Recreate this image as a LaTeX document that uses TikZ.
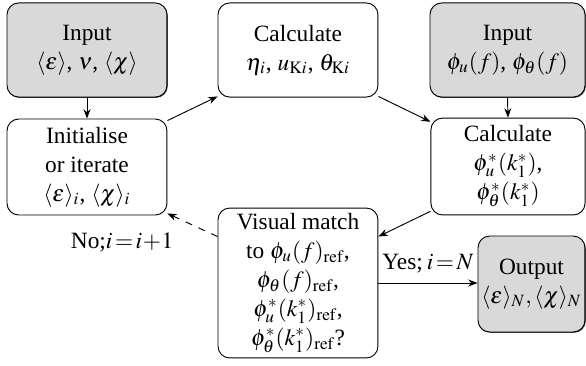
\documentclass[tikz,border=0pt]{standalone}
\usepackage{mathptmx}
\usepackage[no-math]{fontspec}
\setmainfont{Liberation Serif}
\usetikzlibrary{arrows.meta,calc,shadows}
\definecolor{boxgray}{gray}{0.85}
\tikzset{
  box/.style={draw=black, rounded corners=5pt, align=center, inner sep=1pt, font=\fontsize{10}{12.4}\selectfont, thin},
  inbox/.style={box, fill=boxgray, drop shadow={shadow xshift=0.35pt, shadow yshift=-0.35pt, fill=black!70, opacity=1}},
  conn/.style={thin, -{Stealth[length=4pt,width=3pt]}},
  lab/.style={font=\fontsize{10}{12}\selectfont, inner sep=1pt}
}
\begin{document}
\begin{tikzpicture}[x=0.4283pt, y=-0.4283pt]
\useasboundingbox (0,0) rectangle (586,365);
\node[inbox, minimum width=68.5pt, minimum height=40.3pt] (in1) at (87,50)
  {Input\\ $\langle\varepsilon\rangle$, $\nu$, $\langle\chi\rangle$};
\node[box, minimum width=68.5pt, minimum height=40.3pt] (calc1) at (298,50)
  {Calculate\\ $\eta_{i}$, $u_{\mathrm{K}i}$, $\theta_{\mathrm{K}i}$};
\node[inbox, minimum width=66.4pt, minimum height=40.3pt] (in2) at (507.5,50)
  {Input\\ $\phi_u(f)$, $\phi_\theta(f)$};
\node[box, minimum width=68.5pt, minimum height=41.1pt] (init) at (87,167)
  {Initialise\\ or iterate\\ $\langle\varepsilon\rangle_{i}$, $\langle\chi\rangle_{i}$};
\node[box, minimum width=66pt, minimum height=41.5pt] (calc2) at (508,166.5)
  {Calculate\\ $\phi_u^*(k_1^*)$,\\ $\phi_\theta^*(k_1^*)$};
\node[box, minimum width=68.5pt, minimum height=64.2pt] (vis) at (298,283)
  {Visual match\\ to $\phi_u(f)_{\mathrm{ref}}$,\\ $\phi_\theta(f)_{\mathrm{ref}}$,\\ $\phi_u^*(k_1^*)_{\mathrm{ref}}$,\\ $\phi_\theta^*(k_1^*)_{\mathrm{ref}}$?};
\node[inbox, minimum width=45.8pt, minimum height=41.1pt] (out) at (531.5,284)
  {Output\\ $\langle\varepsilon\rangle_{N},\langle\chi\rangle_{N}$};

\draw[conn] (in1.south) -- (init.north);
\draw[conn] (init.30) -- (calc1.210);
\draw[conn] (calc1.-30) -- (calc2.150);
\draw[conn] (in2.south) -- (calc2.north);
\draw[conn] (calc2.210) -- (vis.30);
\draw[conn, dashed] (vis.150) -- (init.-30)
  node[lab, pos=0.5, anchor=north east, xshift=-7pt, yshift=-2pt] (nolab) {No;$i\!=\!i\!+\!1$};
\draw[conn] (vis.east) -- (out.west |- vis.east)
  node[lab, midway, above=3pt] (yeslab) {Yes;\,$i\!=\!N$};
\end{tikzpicture}
\end{document}
